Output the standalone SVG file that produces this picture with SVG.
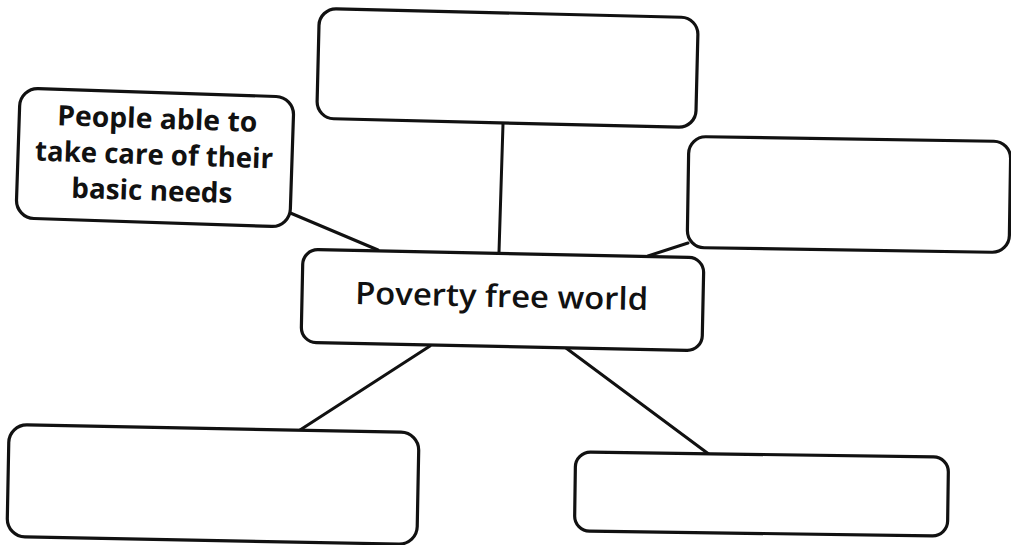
<svg xmlns="http://www.w3.org/2000/svg" width="1011" height="545" viewBox="0 0 1011 545">
<style>
.box{fill:#fff;stroke:#111;stroke-width:3.2}
.ln{stroke:#111;stroke-width:3;fill:none;stroke-linecap:round}
.t{font-family:"Open Sans","Liberation Sans",sans-serif;fill:#111;text-anchor:middle}
</style>
<rect width="1011" height="545" fill="#fff"/>
<g id="connectors">
<line class="ln" x1="503" y1="124" x2="499" y2="252"/>
<line class="ln" x1="288" y1="212" x2="378" y2="250"/>
<line class="ln" x1="688" y1="243" x2="648" y2="256"/>
<line class="ln" x1="430" y1="346" x2="300" y2="430"/>
<line class="ln" x1="566" y1="348" x2="710" y2="455"/>
</g>
<g id="top" transform="translate(507.5 68) rotate(1.4)">
<rect class="box" x="-189.5" y="-55" width="379" height="110" rx="17"/>
</g>
<g id="people" transform="translate(155 157.5) rotate(1.9)">
<rect class="box" x="-137" y="-65" width="274" height="130" rx="18"/>
<text class="t" font-weight="700" font-size="28" x="1" y="-29" textLength="200" lengthAdjust="spacingAndGlyphs">People able to</text>
<text class="t" font-weight="700" font-size="28" x="-1" y="7" textLength="238" lengthAdjust="spacingAndGlyphs">take care of their</text>
<text class="t" font-weight="700" font-size="28" x="-2" y="43" textLength="161" lengthAdjust="spacingAndGlyphs">basic needs</text>
</g>
<g id="right" transform="translate(849 194.5) rotate(0.9)">
<rect class="box" x="-161" y="-55.5" width="322" height="111" rx="17"/>
</g>
<g id="center" transform="translate(502.5 300) rotate(1.2)">
<rect class="box" x="-200.5" y="-46.5" width="401" height="93" rx="15"/>
<text class="t" font-weight="600" font-size="31" x="-1" y="7" textLength="293" lengthAdjust="spacingAndGlyphs">Poverty free world</text>
</g>
<g id="bottomleft" transform="translate(213 484.5) rotate(1.1)">
<rect class="box" x="-205" y="-56" width="410" height="112" rx="18"/>
</g>
<g id="bottomright" transform="translate(761.5 494) rotate(0.8)">
<rect class="box" x="-186.5" y="-39.5" width="373" height="79" rx="15"/>
</g>
</svg>
